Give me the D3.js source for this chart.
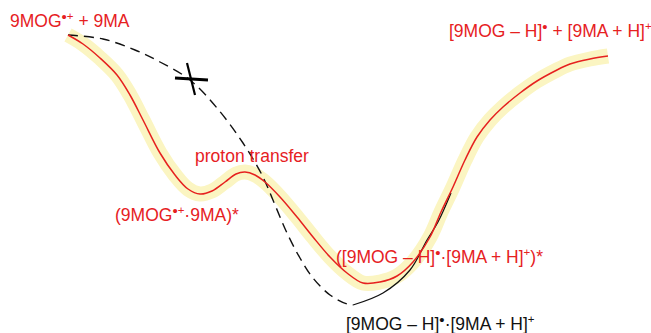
<!DOCTYPE html>
<html>
<head>
<meta charset="utf-8">
<script src="https://cdn.jsdelivr.net/npm/d3@7"></script>
<style>
  html, body { margin: 0; padding: 0; background: #fff; }
  svg { display: block; font-family: 'Liberation Sans', Arial, sans-serif; }
</style>
</head>
<body>
<svg id="chart" width="651" height="333"></svg>
<script>
// reaction coordinate (x) vs relative energy (y)
const pesPath = [
  [0, 27.5], [1.5, 26.6], [3.2, 25.2], [4.9, 23.5], [6.2, 21.5], [7.5, 19.0],
  [9.2, 15.7], [10.7, 13.5], [12.0, 12.1], [13.2, 11.6], [14.4, 11.9], [15.7, 12.8],
  [16.8, 13.6], [17.7, 13.8], [18.7, 13.5], [19.7, 12.8], [21.2, 11.3], [22.9, 9.3],
  [24.5, 7.3], [26.2, 5.3], [27.9, 3.7], [29.5, 2.7], [31.2, 2.8], [32.9, 3.4],
  [34.5, 4.8], [36.2, 7.3], [37.3, 9.8], [38.5, 12.3], [39.7, 15.0], [40.9, 17.3],
  [42.2, 19.0], [43.5, 20.3], [45.2, 21.7], [46.9, 22.9], [48.7, 23.9], [50.2, 24.6],
  [52.2, 25.1], [54.0, 25.4]
];
// direct route (blocked), dashed part
const directDashed = [
  [0, 27.5], [3.5, 27.1], [6.7, 26.0], [9.2, 24.8], [12.2, 23.0], [14.9, 20.2],
  [17.5, 16.7], [19.4, 13.5], [20.7, 10.5], [21.9, 7.7], [23.2, 5.2], [24.5, 3.2],
  [26.2, 1.5], [27.9, 0.6], [28.5, 0.5]
];
// relaxed complex, solid part joining back to the main path
const directSolid = [
  [28.5, 0.5], [31.5, 1.7], [34.2, 4.0], [35.9, 7.0], [37.0, 8.8], [38.3, 11.7]
];
const blockedAt = [12.3, 23.1];

const labels = {
  reactants: [{ t: '9MOG' }, { t: '•+', sup: true }, { t: ' + 9MA' }],
  products: [{ t: '[9MOG – H]' }, { t: '•', sup: true }, { t: ' + [9MA + H]' }, { t: '+', sup: true }],
  transfer: [{ t: 'proton transfer' }],
  complex1: [{ t: '(9MOG' }, { t: '•+', sup: true }, { t: '·9MA)*' }],
  complex2: [{ t: '([9MOG – H]' }, { t: '•', sup: true }, { t: '·[9MA + H]' }, { t: '+', sup: true }, { t: ')*' }],
  complex3: [{ t: '[9MOG – H]' }, { t: '•', sup: true }, { t: '·[9MA + H]' }, { t: '+', sup: true }]
};

const red = '#e6211f';
const svg = d3.select('#chart');

const x = d3.scaleLinear().domain([0, 54]).range([68, 608]);
const y = d3.scaleLinear().domain([0, 28]).range([310, 30]);

const line = d3.line()
  .x(d => x(d[0]))
  .y(d => y(d[1]))
  .curve(d3.curveCatmullRom.alpha(0.5));

// yellow highlight band
svg.append('path')
  .attr('d', line(pesPath))
  .attr('fill', 'none')
  .attr('stroke', '#fbf5c2')
  .attr('stroke-width', 15);

svg.append('path')
  .attr('d', line(directDashed))
  .attr('fill', 'none')
  .attr('stroke', '#111')
  .attr('stroke-width', 1.4)
  .attr('stroke-dasharray', '10,6');

svg.append('path')
  .attr('d', line(directSolid))
  .attr('fill', 'none')
  .attr('stroke', '#111')
  .attr('stroke-width', 1.2);

svg.append('path')
  .attr('d', line(pesPath))
  .attr('fill', 'none')
  .attr('stroke', red)
  .attr('stroke-width', 1.5);

// the cross on the blocked route
const cx = x(blockedAt[0]), cy = y(blockedAt[1]);
svg.append('line')
  .attr('x1', cx - 16).attr('y1', cy - 1)
  .attr('x2', cx + 17).attr('y2', cy + 1)
  .attr('stroke', '#000').attr('stroke-width', 3);
svg.append('line')
  .attr('x1', cx - 4).attr('y1', cy - 16)
  .attr('x2', cx + 4).attr('y2', cy + 16)
  .attr('stroke', '#000').attr('stroke-width', 2.2);

// superscripts: bullet drawn a bit bigger so the radical dot reads like the original
function label(parts, px, py, color) {
  const t = svg.append('text')
    .attr('x', px).attr('y', py)
    .attr('fill', color)
    .style('font-size', '17.5px');
  let lift = 0;
  parts.forEach(p => {
    if (!p.sup) {
      t.append('tspan').attr('dy', lift).text(p.t);
      lift = 0;
      return;
    }
    Array.from(p.t).forEach(ch => {
      const up = ch === '•' ? 5.5 : 7.5;
      t.append('tspan')
        .attr('dy', lift - up)
        .style('font-size', ch === '•' ? '15px' : '11.5px')
        .text(ch);
      lift = up;
    });
  });
}

label(labels.reactants, 10, 27, red);
label(labels.products, 449, 37, red);
label(labels.transfer, 195, 162, red);
label(labels.complex1, 115, 221, red);
label(labels.complex2, 336, 263, red);
label(labels.complex3, 346, 330, '#111');
</script>
</body>
</html>
